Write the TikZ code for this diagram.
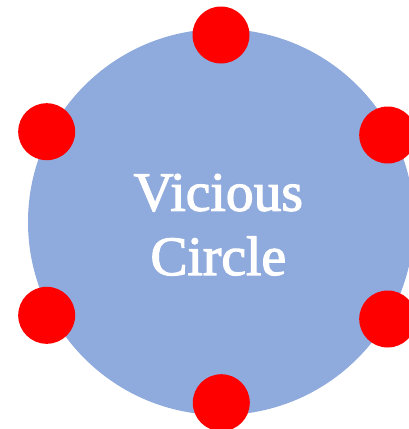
\documentclass[tikz,border=0pt]{standalone}
\usepackage{fontspec}
\setmainfont{Liberation Serif}
\newcommand\heavytext[1]{\special{pdf:literal 2 Tr 1.2 w 1 1 1 RG}#1\special{pdf:literal 0 Tr}}
\definecolor{cblue}{HTML}{8FAADC}
\definecolor{cred}{HTML}{FF0000}
\begin{document}
\begin{tikzpicture}[x=1pt,y=1pt,
  dot/.style={circle,fill=cred,draw=none,minimum size=57pt,inner sep=0pt},
  big/.style={circle,fill=cblue,draw=none,minimum size=386pt,inner sep=0pt},
  lbl/.style={text=white,font=\fontsize{55.5}{64}\selectfont,anchor=base,inner sep=0pt}]
\useasboundingbox (0,0) rectangle (408,-429);
\node[big] (c) at (221,-222) {};
\node[dot] (d1) at (221,-35) {};
\node[dot] (d2) at (387.7,-135) {};
\node[dot] (d3) at (387.7,-319) {};
\node[dot] (d4) at (221.3,-402.7) {};
\node[dot] (d5) at (46.7,-315.3) {};
\node[dot] (d6) at (46.7,-131.7) {};
\node[lbl] (t1) at (218.3,-210.7) {\heavytext{Vicious}};
\node[lbl] (t2) at (218.3,-275) {\heavytext{Circle}};
\end{tikzpicture}
\end{document}
